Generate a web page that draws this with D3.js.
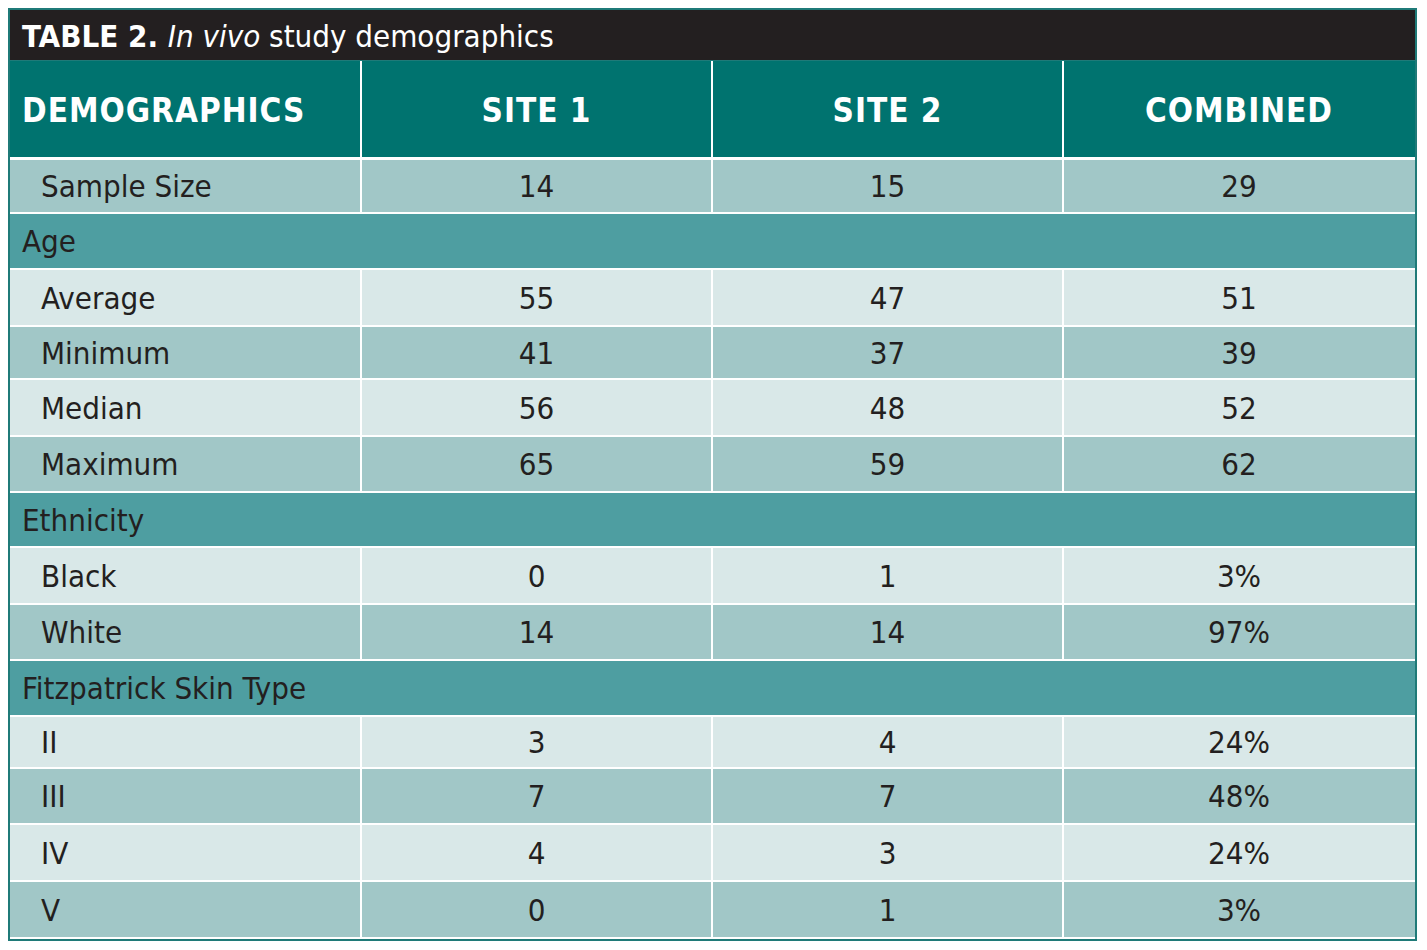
<!DOCTYPE html>
<html><head><meta charset="utf-8">
<script src="https://cdn.jsdelivr.net/npm/d3@7"></script>
<style>body{margin:0;background:#fff}</style>
</head><body><svg id="c" width="1427" height="950"></svg>
<script>
var columns = ["DEMOGRAPHICS", "SITE 1", "SITE 2", "COMBINED"];
// type: s = section header, r = data row
var rowLabels = ["Sample Size","Age","Average","Minimum","Median","Maximum","Ethnicity","Black","White","Fitzpatrick Skin Type","II","III","IV","V"];
var rowTypes  = ["r","s","r","r","r","r","s","r","r","s","r","r","r","r"];
var site1     = ["14","","55","41","56","65","","0","14","","3","7","4","0"];
var site2     = ["15","","47","37","48","59","","1","14","","4","7","3","1"];
var combined  = ["29","","51","39","52","62","","3%","97%","","24%","48%","24%","3%"];
var rowTops   = [160,214,270,327,380,437,493,548,605,661,717,769,825,882,939];
var colEdges  = [10,361,712,1063,1415];

var svg = d3.select("#c");
var font = "'Liberation Sans Narrow','DejaVu Sans Condensed',sans-serif";

svg.append("rect").attr("x",8).attr("y",8).attr("width",1409).attr("height",933).attr("fill","#1f7a78");
svg.append("rect").attr("x",10).attr("y",10).attr("width",1405).attr("height",50).attr("fill","#231f20");
var t = svg.append("text").attr("x",22).attr("y",47).attr("fill","#fff").style("font-family",font).style("font-size","31px");
t.append("tspan").attr("font-weight","bold").text("TABLE 2. ");
t.append("tspan").attr("font-style","italic").text("In vivo");
t.append("tspan").text(" study demographics");

// header
svg.append("rect").attr("x",10).attr("y",61).attr("width",1405).attr("height",97).attr("fill","#00736f");
columns.forEach(function(c,i){
  if(i>0) svg.append("rect").attr("x",colEdges[i]-1).attr("y",61).attr("width",2).attr("height",97).attr("fill","#fff");
  svg.append("text").attr("x", i==0 ? 22 : (colEdges[i]+colEdges[i+1])/2).attr("y",122)
    .attr("text-anchor", i==0 ? "start" : "middle").attr("fill","#fff").attr("font-weight","bold")
    .style("font-family",font).style("font-size","33px").style("letter-spacing","1px").text(c);
});
svg.append("rect").attr("x",10).attr("y",157).attr("width",1405).attr("height",3).attr("fill","#fff");

var k = 0;
rowLabels.forEach(function(lab,i){
  var y0 = rowTops[i], y1 = rowTops[i+1]-2, h = y1-y0;
  var fill;
  if(rowTypes[i]=="s") fill = "#4e9ea1";
  else { fill = (i==0 || (k%2==1)) ? "#a1c7c7" : "#d9e8e8"; }
  if(rowTypes[i]=="r" && i>0) k++;
  svg.append("rect").attr("x",10).attr("y",y0).attr("width",1405).attr("height",h).attr("fill",fill);
  svg.append("rect").attr("x",10).attr("y",y1).attr("width",1405).attr("height",2).attr("fill","#fff");
  var ty = y0 + h/2 + 11;
  if(rowTypes[i]=="s"){
    svg.append("text").attr("x",22).attr("y",ty).attr("fill","#231f20").style("font-family",font).style("font-size","31px").text(lab);
    return;
  }
  [lab, site1[i], site2[i], combined[i]].forEach(function(v,j){
    if(j>0) svg.append("rect").attr("x",colEdges[j]-1).attr("y",y0).attr("width",2).attr("height",h).attr("fill","#fff");
    svg.append("text").attr("x", j==0 ? 41 : (colEdges[j]+colEdges[j+1])/2).attr("y",ty)
      .attr("text-anchor", j==0 ? "start" : "middle").attr("fill","#231f20")
      .style("font-family",font).style("font-size","31px").text(v);
  });
});
</script></body></html>
